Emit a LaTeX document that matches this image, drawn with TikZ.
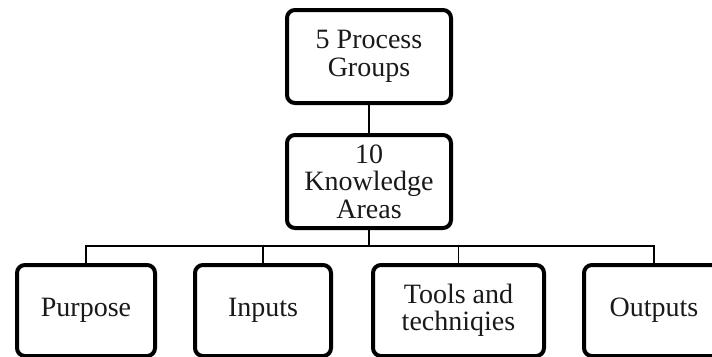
\documentclass[tikz,border=0pt]{standalone}
\usepackage{fontspec}
\setmainfont{Liberation Serif}
\begin{document}
\begin{tikzpicture}[x=1pt,y=-1pt,
  box/.style={draw, line width=4pt, rounded corners=8pt, align=center, inner sep=0pt,
    font=\fontsize{28}{27.5}\selectfont, text=black!90},
  topbox/.style={box, minimum width=164pt, minimum height=93pt},
  botbox/.style={box, minimum height=91pt},
  link/.style={line width=1.3pt}]
\useasboundingbox (0,0) rectangle (712,356);
\clip (0,0) rectangle (712,356);
\node[topbox] (pg) at (369,56.5) {5 Process\\Groups};
\node[topbox] (ka) at (369,181.5) {10\\Knowledge\\Areas};
\node[botbox, minimum width=138pt] (pu) at (86,310.5) {Purpose};
\node[botbox, minimum width=136pt] (in) at (263,310.5) {Inputs};
\node[botbox, minimum width=171pt] (tt) at (458.5,310.5) {Tools and\\techniqies};
\node[botbox, minimum width=140pt] (ou) at (654,310.5) {Outputs};
\coordinate (j) at (369,246);
\draw[link] (pg.south) -- (ka.north);
\draw[link] (ka.south) -- (j);
\draw[link] (j) -| (pu.north);
\draw[link] (j) -| (in.north);
\draw[link] (j) -| (tt.north);
\draw[link] (j) -| (ou.north);
\end{tikzpicture}
\end{document}
